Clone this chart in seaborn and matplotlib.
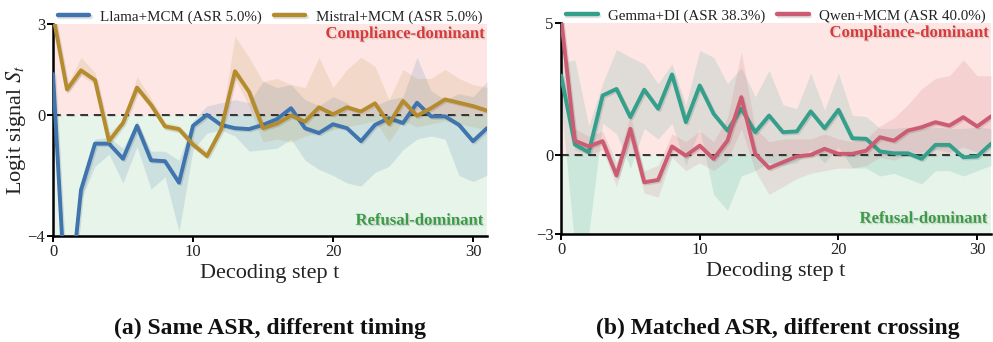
import matplotlib
matplotlib.use("Agg")
import matplotlib.pyplot as plt
import seaborn as sns
import numpy as np
import pandas as pd
from matplotlib import patheffects as pe

# ---------------- data ----------------
steps = list(range(32))

llama = [1.35, -7.0, -2.48, -0.95, -0.95, -1.45, -0.36, -1.5, -1.53, -2.24, -0.36, 0.0,
         -0.33, -0.44, -0.47, -0.33, -0.14, 0.22, -0.44, -0.6, -0.31, -0.44, -0.87, -0.33,
         -0.11, -0.27, 0.4, -0.05, -0.05, -0.33, -0.87, -0.44]
llama_lo = [1.0, -8.0, -2.8, -1.7, -1.3, -2.25, -1.05, -2.45, -2.05, -3.85, -1.15, -0.6,
            -0.5, -0.7, -1.2, -1.15, -1.1, -0.8, -1.5, -1.8, -2.0, -2.25, -2.35, -1.9,
            -1.7, -1.15, -0.8, -0.7, -0.8, -2.0, -2.2, -2.0]
llama_hi = [1.6, -6.0, -2.2, -0.8, -0.75, -1.1, -0.2, -1.2, -1.2, -1.5, -0.2, 0.3,
            0.4, 0.5, 0.4, 1.1, 0.9, 1.0, 0.5, 0.3, 0.6, 0.4, 0.0, 0.3,
            0.5, 0.6, 1.9, 0.8, 0.5, 0.7, 0.6, 1.1]

mistral = [3.3, 0.84, 1.47, 1.15, -0.87, -0.27, 0.9, 0.33, -0.38, -0.47, -0.98, -1.36,
           -0.49, 1.44, 0.76, -0.44, -0.29, -0.02, -0.22, 0.25, 0.02, 0.25, 0.11, 0.38,
           -0.3, 0.46, -0.03, 0.22, 0.51, 0.4, 0.29, 0.14]
mistral_lo = [3.0, 0.7, 1.3, 1.0, -0.9, -0.35, 0.75, 0.2, -0.5, -0.6, -1.1, -1.45,
              -0.6, 1.2, 0.3, -0.9, -0.8, -0.9, -0.7, -0.6, -0.5, -0.4, -0.3, -0.2,
              -0.9, -0.2, -0.4, -0.3, -0.2, -0.3, -0.4, -0.5]
mistral_hi = [3.5, 0.95, 1.9, 1.4, -0.6, -0.15, 1.25, 0.55, -0.25, -0.35, -0.8, -1.2,
              -0.3, 2.6, 1.9, 1.1, 1.2, 1.0, 0.9, 1.9, 0.9, 1.5, 1.9, 1.6,
              0.5, 1.5, 1.2, 1.2, 1.5, 1.2, 1.0, 0.9]

gemma = [3.01, 0.39, 0.1, 2.25, 2.5, 1.43, 2.47, 1.75, 3.05, 1.24, 2.63, 1.56,
         0.92, 1.75, 0.86, 1.49, 0.86, 0.89, 1.65, 1.01, 1.71, 0.63, 0.61, 0.13,
         0.06, 0.06, -0.15, 0.38, 0.38, -0.09, -0.06, 0.42]
gemma_lo = [2.0, -3.5, -3.0, 1.2, 0.8, -0.5, 1.0, 0.6, 1.2, -0.4, 1.0, -1.5,
            -2.1, -0.8, -0.6, -0.3, -0.4, -0.3, 0.2, -0.3, 0.3, -0.5, -0.5, -0.8,
            -0.7, -0.9, -1.1, -0.6, -0.6, -0.8, -0.6, -0.4]
gemma_hi = [3.5, 3.6, 1.1, 2.7, 4.0, 3.7, 3.45, 2.7, 3.45, 1.9, 3.95, 3.7,
            2.7, 3.3, 2.2, 3.2, 1.9, 1.75, 3.1, 1.7, 3.1, 1.5, 1.45, 1.0,
            1.0, 1.05, 1.0, 1.05, 1.0, 1.0, 1.05, 1.0]

qwen = [5.2, 0.54, 0.32, 0.52, -0.78, 0.99, -1.04, -0.95, 0.32, -0.03, 0.35, -0.15,
        0.54, 2.19, 0.04, -0.5, -0.28, -0.06, 0.0, 0.23, 0.04, 0.04, 0.16, 0.67,
        0.54, 0.92, 1.05, 1.24, 1.11, 1.43, 1.08, 1.46]
qwen_lo = [4.5, 0.2, 0.0, 0.2, -1.2, 0.5, -1.45, -1.6, -0.1, -0.6, -0.3, -0.6,
           -0.2, 1.0, -0.6, -1.5, -1.2, -0.9, -0.7, -0.6, -0.5, -0.5, -0.4, -0.1,
           -0.2, 0.0, 0.1, 0.2, 0.1, 0.3, 0.1, 0.3]
qwen_hi = [5.5, 1.0, 0.7, 0.9, -0.3, 1.5, -0.6, -0.4, 0.8, 0.5, 0.9, 0.5,
           1.4, 3.9, 1.0, 0.5, 0.6, 0.6, 0.6, 0.8, 0.6, 0.5, 0.6, 1.1,
           1.4, 1.9, 2.5, 2.9, 3.0, 3.6, 3.0, 3.0]

labels_a = ["Llama+MCM (ASR 5.0%)", "Mistral+MCM (ASR 5.0%)"]
labels_b = ["Gemma+DI (ASR 38.3%)", "Qwen+MCM (ASR 40.0%)"]
yticks_a = [-4, 0, 3]
yticks_b = [-3, 0, 5]
xticks = [0, 10, 20, 30]

# ---------------- style ----------------
sns.set_theme(style="ticks")
plt.rcParams["font.family"] = ["Liberation Serif", "DejaVu Serif"]
plt.rcParams["mathtext.fontset"] = "stix"
plt.rcParams["axes.unicode_minus"] = True

C_BLUE = "#3f74ae"
C_GOLD = "#b48c2e"
C_TEAL = "#34a08c"
C_RED = "#cc5c72"
BG_PINK = "#fde6e3"
BG_GREEN = "#e6f4e9"

txt_shadow = [pe.withSimplePatchShadow(offset=(1, -1), shadow_rgbFace="0.5", alpha=0.25)]
line_shadow = [pe.SimpleLineShadow(offset=(1, -1), alpha=0.12), pe.Normal()]

fig = plt.figure(figsize=(9.93, 3.42), dpi=100)
ax1 = fig.add_axes([53 / 993, 1 - 236 / 342, 434 / 993, 212 / 342])
ax2 = fig.add_axes([561 / 993, 1 - 234 / 342, 430 / 993, 211 / 342])


def panel(ax, series, ylim, yticks, labels, caption, cx, ylabel):
    ymin, ymax = ylim
    ax.axhspan(0, ymax, color=BG_PINK, zorder=0, lw=0)
    ax.axhspan(ymin, 0, color=BG_GREEN, zorder=0, lw=0)
    for (m, lo, hi, c), lab in zip(series, labels):
        ax.fill_between(steps, lo, hi, color=c, alpha=0.15, lw=0, zorder=1)
    for (m, lo, hi, c), lab in zip(series, labels):
        df = pd.DataFrame({"t": steps, "v": m})
        sns.lineplot(data=df, x="t", y="v", color=c, lw=2.8, label=lab, ax=ax,
                     zorder=3, path_effects=line_shadow)
    ax.axhline(0, color="#333333", ls="--", lw=1.4, dashes=(4, 3), zorder=2,
               path_effects=line_shadow)
    ax.set_xlim(0, 31)
    ax.set_ylim(ymin, ymax)
    ax.set_xticks(xticks)
    ax.set_yticks(yticks)
    ax.tick_params(axis="both", direction="out", length=4, width=1.4, color="black",
                   labelsize=12, pad=1.5, labelcolor="#222222")
    for s in ["left", "bottom"]:
        ax.spines[s].set_linewidth(1.8)
        ax.spines[s].set_color("black")
    sns.despine(ax=ax)
    ax.set_xlabel("Decoding step t", fontsize=16, labelpad=3, color="#222222")
    if ylabel:
        ax.set_ylabel(r"Logit signal $S_t$", fontsize=16, labelpad=0, color="#222222")
    else:
        ax.set_ylabel("")
    ax.text(0.993, 0.953, "Compliance-dominant", transform=ax.transAxes, ha="right",
            va="center", color="#d83a3a", fontsize=12, fontweight="bold", zorder=5,
            path_effects=txt_shadow)
    ax.text(0.99, 0.072, "Refusal-dominant", transform=ax.transAxes, ha="right",
            va="center", color="#3b9a45", fontsize=12, fontweight="bold", zorder=5,
            path_effects=txt_shadow)
    leg = ax.legend(loc="lower center", bbox_to_anchor=(0.5, 0.995), ncol=2, frameon=False,
                    fontsize=10.8, handlelength=2.1, handletextpad=0.7, columnspacing=0.8,
                    borderaxespad=0.0, borderpad=0.1)
    for t in leg.get_texts():
        t.set_color("#222222")
    for h in leg.get_lines():
        h.set_linewidth(3.2)
    fig.text(cx, 1 - 328 / 342, caption, ha="center", va="center", fontsize=17,
             fontweight="bold", color="#111111")


panel(ax1, [(llama, llama_lo, llama_hi, C_BLUE), (mistral, mistral_lo, mistral_hi, C_GOLD)],
      (-4, 3), yticks_a, labels_a, "(a) Same ASR, different timing", 270 / 993, True)
panel(ax2, [(gemma, gemma_lo, gemma_hi, C_TEAL), (qwen, qwen_lo, qwen_hi, C_RED)],
      (-3, 5), yticks_b, labels_b, "(b) Matched ASR, different crossing", 778 / 993, False)

fig.savefig("out.png", dpi=100)
